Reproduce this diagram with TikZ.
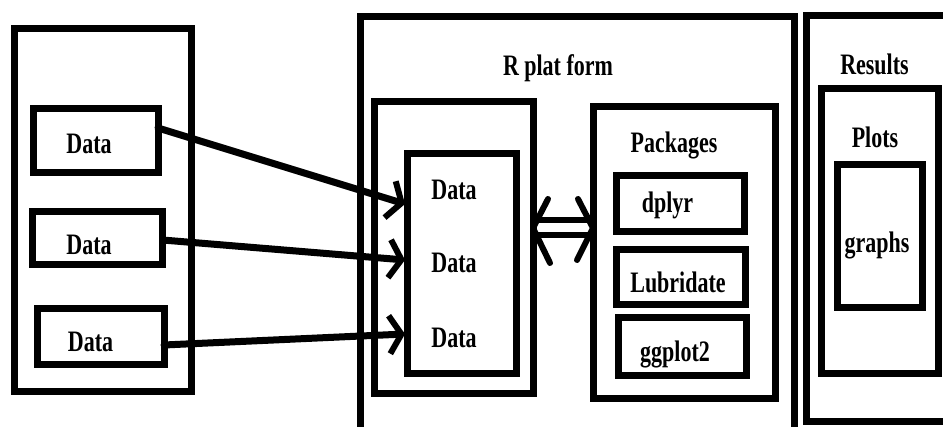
\documentclass[tikz,border=0pt]{standalone}
\usepackage{fontspec}
\setmainfont{Liberation Serif}
\usetikzlibrary{arrows.meta,calc}
\newcommand\tallt[1]{\scalebox{1}[1.35]{#1}}
\begin{document}
\begin{tikzpicture}[x=1pt,y=-1pt,
  box/.style={draw,line width=7pt,rectangle,inner sep=0pt,outer sep=0pt},
  lbl/.style={anchor=base,inner sep=0pt,font=\fontsize{22}{24}\selectfont\bfseries},
  arr/.style={line width=7pt,line cap=round,-{Straight Barb[length=12pt,width=38pt,line width=6pt]}},
  dbl/.style={line width=6pt,line cap=round,line join=round}]
\useasboundingbox (0,0) rectangle (943,427);
\clip (0,0) rectangle (943,427);
\fill[white] (0,0) rectangle (943,427);
% left column
\node[box,minimum width=177pt,minimum height=363pt] (LO) at (102.5,210.5) {};
\node[box,minimum width=125pt,minimum height=64pt] (LD1) at (95.5,141) {};
\node[box,minimum width=130pt,minimum height=53pt] (LD2) at (97.5,238.5) {};
\node[box,minimum width=127pt,minimum height=56pt] (LD3) at (100.5,337) {};
\node[lbl] (t1) at (89,154) {\tallt{Data}};
\node[lbl] (t2) at (89,255) {\tallt{Data}};
\node[lbl] (t3) at (90.5,352) {\tallt{Data}};
% middle platform
\node[box,minimum width=434pt,minimum height=420pt] (MO) at (577,227) {};
\node[lbl] (tR) at (558,76) {\tallt{R plat form}};
\node[box,minimum width=159pt,minimum height=292pt] (IL) at (453.5,248) {};
\node[box,minimum width=109pt,minimum height=220pt] (DC) at (461.5,264) {};
\node[lbl] (m1) at (454,200) {\tallt{Data}};
\node[lbl] (m2) at (454,273) {\tallt{Data}};
\node[lbl] (m3) at (454,348) {\tallt{Data}};
\node[box,minimum width=182pt,minimum height=292pt] (PK) at (684,253) {};
\node[lbl] (tP) at (674,153) {\tallt{Packages}};
\node[box,minimum width=128pt,minimum height=56pt] (dp) at (680,204) {};
\node[box,minimum width=129pt,minimum height=55pt] (lb) at (680.5,277.5) {};
\node[box,minimum width=128pt,minimum height=58pt] (gg) at (682,347) {};
\node[lbl] (tdp) at (667.5,213) {\tallt{dplyr}};
\node[lbl] (tlb) at (678,293) {\tallt{Lubridate}};
\node[lbl] (tgg) at (675,362) {\tallt{ggplot2}};
% results
\node[box,minimum width=150pt,minimum height=406pt] (RO) at (881,219) {};
\node[lbl] (tRs) at (874.5,75) {\tallt{Results}};
\node[box,minimum width=117pt,minimum height=285pt] (PL) at (879.5,231.5) {};
\node[lbl] (tPl) at (875,148) {\tallt{Plots}};
\node[box,minimum width=85pt,minimum height=143pt] (GR) at (879.5,236.5) {};
\node[lbl] (tGr) at (877,253) {\tallt{graphs}};
% arrows data -> data column
\draw[arr] ($(LD1.east)+(0,-13)$) -- ($(DC.west)+(-2,-60)$);
\draw[arr] ($(LD2.east)+(0,1.5)$) -- ($(DC.west)+(-2,-4)$);
\draw[arr] ($(LD3.east)+(0,8)$) -- ($(DC.west)+(-2,70)$);
% double arrow
\coordinate (dl) at ($(IL.east)+(0,-20)$);
\coordinate (dr) at ($(PK.west)+(0,-25)$);
\draw[dbl] ($(dl)+(0,-8)$) -- ($(dr)+(0,-8)$);
\draw[dbl] ($(dl)+(0,7)$) -- ($(dr)+(0,7)$);
\draw[dbl] ($(dl)+(15,-29)$) -- (dl) -- ($(dl)+(17,35)$);
\draw[dbl] ($(dr)+(-15,-29)$) -- (dr) -- ($(dr)+(-16,32)$);
\end{tikzpicture}
\end{document}
